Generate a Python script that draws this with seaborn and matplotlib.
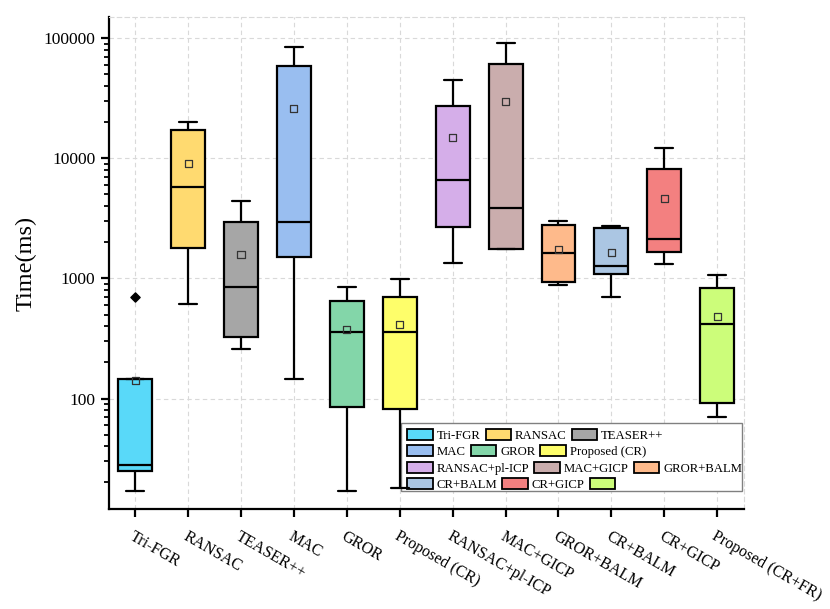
import numpy as np
import pandas as pd
import seaborn as sns
import matplotlib.pyplot as plt
import matplotlib.ticker as ticker
from matplotlib.patches import Patch, Rectangle
from matplotlib.legend import Legend

# --- data (ms) ---
methods = ['Tri-FGR', 'RANSAC', 'TEASER++', 'MAC', 'GROR', 'Proposed (CR)',
           'RANSAC+pl-ICP', 'MAC+GICP', 'GROR+BALM', 'CR+BALM', 'CR+GICP',
           'Proposed (CR+FR)']
whis_lo = [17, 614, 257, 146, 17, 18, 1340, 1750, 883, 702, 1321, 70]
q1 = [24.8, 1795, 324, 1510, 85, 82, 2655, 1750, 929, 1089, 1663, 92]
median = [28, 5740, 849, 2950, 359, 359, 6580, 3845, 1622, 1280, 2148, 416]
q3 = [145, 17140, 2940, 58500, 646, 697, 27200, 61100, 2810, 2620, 8110, 828]
whis_hi = [145, 19870, 4395, 84700, 845, 985, 44700, 90800, 3010, 2755, 12080, 1064]
means = [141, 8980, 1590, 25770, 377, 416, 15000, 29500, 1742, 1630, 4660, 482]
outlier_idx = [0]
outlier_val = [697]

colors = ['#59D9F9', '#FFDA70', '#A6A6A6', '#99BEF0', '#83D6A9', '#FEFE6A',
          '#D5AEE9', '#CAADAD', '#FEBA8B', '#ABC6E3', '#F38080', '#CCFD7A']
legend_labels = methods[:-1] + ['']

# five-number summary per method -> long table
rows = []
for m, a, b, c, d, e in zip(methods, whis_lo, q1, median, q3, whis_hi):
    for v in (a, b, c, d, e):
        rows.append((m, v))
df = pd.DataFrame(rows, columns=['Method', 'Time'])

sns.set_theme(style='white')
plt.rcParams['font.family'] = ['Liberation Serif', 'DejaVu Serif']
plt.rcParams['text.color'] = 'black'
plt.rcParams['axes.labelcolor'] = 'black'
plt.rcParams['xtick.color'] = 'black'
plt.rcParams['ytick.color'] = 'black'

fig = plt.figure(figsize=(8.3, 6.09), dpi=100)
ax = fig.add_axes([0.131, 0.164, 0.765, 0.808])

sns.boxplot(data=df, x='Method', y='Time', hue='Method', palette=colors,
            order=methods, hue_order=methods, legend=False,
            whis=(0, 100), width=0.64, linecolor='black', linewidth=1.6,
            saturation=1, log_scale=(False, True), capwidths=0.34, ax=ax)

# means (hollow squares) and outlier (diamond)
pos = np.arange(len(methods))
ax.scatter(pos, means, marker='s', s=26, facecolors='none',
           edgecolors='#333333', linewidths=0.9, zorder=5)
ax.scatter(pos[outlier_idx], outlier_val, marker='D', s=22, color='black', zorder=5)

ax.set_yscale('log')
ax.set_ylim(12, 150000)
ax.set_xlim(-0.5, len(methods) - 0.5)
ax.yaxis.set_major_locator(ticker.LogLocator(base=10))
ax.yaxis.set_minor_locator(ticker.LogLocator(base=10, subs=np.arange(2, 10)))
ax.yaxis.set_minor_formatter(ticker.NullFormatter())
ax.yaxis.set_major_formatter(ticker.FuncFormatter(lambda v, p: '%d' % round(v)))

ax.grid(True, which='major', linestyle=(0, (4, 3)), color='#d9d9d9', linewidth=0.8)
ax.set_axisbelow(True)
for s in ['top', 'right']:
    ax.spines[s].set_linestyle((0, (4, 3)))
    ax.spines[s].set_color('#d9d9d9')
    ax.spines[s].set_linewidth(0.8)
for s in ['left', 'bottom']:
    ax.spines[s].set_color('black')
    ax.spines[s].set_linewidth(1.6)

ax.tick_params(axis='both', which='major', direction='out', length=6, width=1.6,
               color='black', left=True, bottom=True)
ax.tick_params(axis='y', which='minor', direction='out', length=3.8, width=1.3,
               color='black', left=True)
ax.tick_params(axis='y', labelsize=12.5)
ax.tick_params(axis='x', labelsize=11.5, pad=8)

ax.set_xlabel('')
ax.set_ylabel('Time(ms)', fontsize=17.5, labelpad=5)
ax.set_xticks(pos)
ax.set_xticklabels(methods, rotation=-30, ha='left', rotation_mode='anchor')

# legend: three entries per row, each row laid out on its own (Origin style)
handles = [Patch(facecolor=c, edgecolor='black', linewidth=1.3) for c in colors]
x0, y0, dy = 0.470, 0.163, 0.0335
for r in range(4):
    idx = range(3 * r, 3 * r + 3)
    leg = Legend(ax, [handles[i] for i in idx], [legend_labels[i] for i in idx],
                 ncol=3, loc='upper left', bbox_to_anchor=(x0, y0 - r * dy),
                 fontsize=9.2, frameon=False, handlelength=2.0,
                 handleheight=0.95, handletextpad=0.3, columnspacing=0.4,
                 borderpad=0, borderaxespad=0)
    leg.set_zorder(1.2)
    ax.add_artist(leg)
ax.add_patch(Rectangle((0.461, 0.037), 0.537, 0.138, transform=ax.transAxes,
                       facecolor='white', edgecolor='#808080', linewidth=1.0,
                       zorder=1.1))

fig.savefig('out.png', dpi=100)
